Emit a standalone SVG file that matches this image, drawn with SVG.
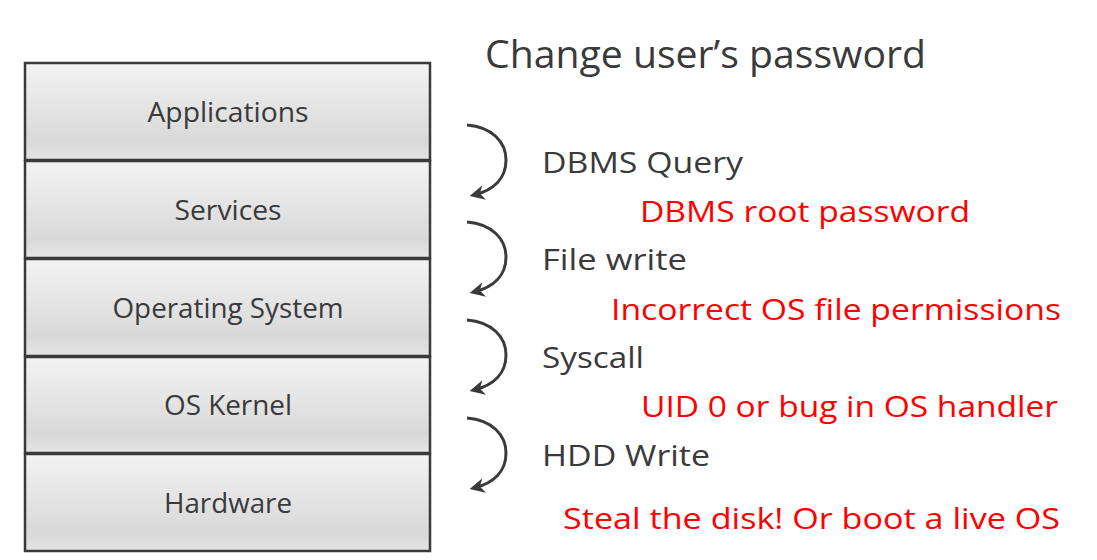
<svg xmlns="http://www.w3.org/2000/svg" width="1097" height="560" viewBox="0 0 1097 560">
<style>
.box{stroke:#3a3a3a;stroke-width:2.5;fill:url(#g)}
.lbl{font-family:"Open Sans",sans-serif;font-size:27px;fill:#3a3a3a;text-anchor:middle}
.step{font-family:"Open Sans",sans-serif;font-size:29px;fill:#3a3a3a}
.red{font-family:"Open Sans",sans-serif;font-size:29px;fill:#ff0000}
.arc{fill:none;stroke:#3a3a3a;stroke-width:3;marker-end:url(#ah)}
</style>
<defs>
<linearGradient id="g" x1="0" y1="0" x2="0" y2="1">
<stop offset="0" stop-color="#f3f3f3"/>
<stop offset="0.8" stop-color="#d9d9d9"/>
<stop offset="1" stop-color="#e4e4e4"/>
</linearGradient>
<marker id="ah" viewBox="0 0 10 10" refX="7" refY="5" markerWidth="5" markerHeight="5" orient="auto" markerUnits="strokeWidth">
<path d="M0,0 L10,5 L0,10 L3,5 Z" fill="#3a3a3a"/>
</marker>
</defs>
<rect width="1097" height="560" fill="#ffffff"/>
<g id="applications"><rect class="box" x="25" y="63" width="405" height="97"/><text class="lbl" x="228" y="122" textLength="161" lengthAdjust="spacingAndGlyphs">Applications</text></g>
<g id="services"><rect class="box" x="25" y="161" width="405" height="97"/><text class="lbl" x="228" y="220" textLength="107" lengthAdjust="spacingAndGlyphs">Services</text></g>
<g id="os"><rect class="box" x="25" y="259" width="405" height="97"/><text class="lbl" x="228" y="318" textLength="231" lengthAdjust="spacingAndGlyphs">Operating System</text></g>
<g id="kernel"><rect class="box" x="25" y="357" width="405" height="96"/><text class="lbl" x="228" y="415" textLength="128" lengthAdjust="spacingAndGlyphs">OS Kernel</text></g>
<g id="hardware"><rect class="box" x="25" y="454" width="405" height="97"/><text class="lbl" x="228" y="513" textLength="128" lengthAdjust="spacingAndGlyphs">Hardware</text></g>
<g id="connectors">
<path class="arc" d="M467,125 C492,127 506,142 506,160 C506,178 494,190 474,195"/>
<path class="arc" d="M467,222 C492,224 506,239 506,257 C506,275 494,287 474,292"/>
<path class="arc" d="M467,320 C492,322 506,337 506,355 C506,373 494,385 474,390"/>
<path class="arc" d="M467,418 C492,420 506,435 506,453 C506,471 494,483 474,488"/>
</g>
<g id="labels">
<text x="485" y="68" font-family="Open Sans, sans-serif" font-size="38" fill="#3a3a3a" textLength="441" lengthAdjust="spacingAndGlyphs">Change user’s password</text>
<text class="step" x="542" y="173" textLength="201" lengthAdjust="spacingAndGlyphs">DBMS Query</text>
<text class="red" x="640" y="222" textLength="330" lengthAdjust="spacingAndGlyphs">DBMS root password</text>
<text class="step" x="542" y="270" textLength="145" lengthAdjust="spacingAndGlyphs">File write</text>
<text class="red" x="611" y="320" textLength="450" lengthAdjust="spacingAndGlyphs">Incorrect OS file permissions</text>
<text class="step" x="542" y="368" textLength="102" lengthAdjust="spacingAndGlyphs">Syscall</text>
<text class="red" x="641" y="417" textLength="417" lengthAdjust="spacingAndGlyphs">UID 0 or bug in OS handler</text>
<text class="step" x="542" y="466" textLength="168" lengthAdjust="spacingAndGlyphs">HDD Write</text>
<text class="red" x="563" y="529" textLength="497" lengthAdjust="spacingAndGlyphs">Steal the disk! Or boot a live OS</text>
</g>
</svg>
